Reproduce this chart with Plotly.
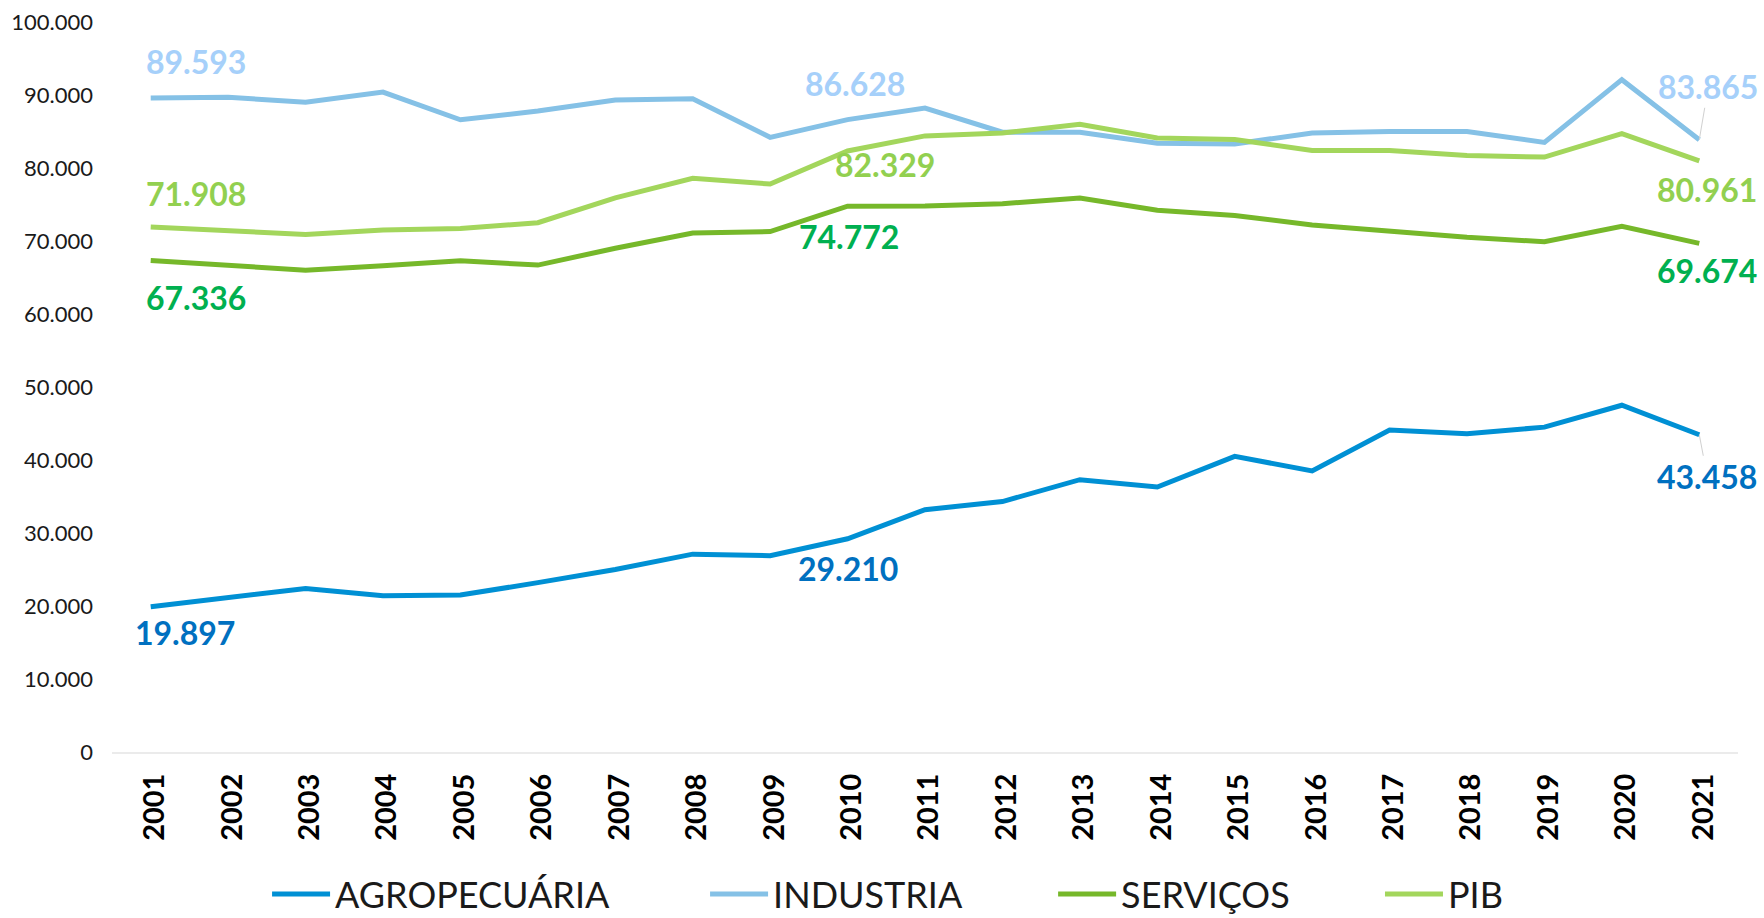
import plotly.graph_objects as go

years = [str(y) for y in range(2001, 2022)]

agro = [19897, 21100, 22400, 21400, 21500, 23200, 25000, 27100, 26900, 29210,
        33200, 34300, 37300, 36300, 40500, 38500, 44100, 43600, 44500, 47500, 43458]
industria = [89593, 89700, 89000, 90400, 86600, 87800, 89300, 89500, 84200, 86628,
             88200, 84900, 84900, 83400, 83300, 84800, 85000, 85000, 83500, 92100, 83865]
servicos = [67336, 66600, 66000, 66600, 67300, 66700, 69000, 71100, 71300, 74772,
            74800, 75100, 75900, 74200, 73500, 72200, 71300, 70500, 69900, 72000, 69674]
pib = [71908, 71400, 70900, 71500, 71700, 72500, 75900, 78600, 77800, 82329,
       84400, 84800, 86000, 84100, 83900, 82400, 82400, 81700, 81500, 84700, 80961]

names = ["AGROPECUÁRIA", "INDUSTRIA", "SERVIÇOS", "PIB"]
series = [agro, industria, servicos, pib]
line_colors = ["#0090D4", "#85C1E6", "#76B82A", "#A3D65C"]
label_colors = ["#0070C0", "#A6D0FA", "#00B050", "#92D050"]
legend_ids = ["legend", "legend2", "legend3", "legend4"]
legend_x = [0.1514, 0.3997, 0.597, 0.7823]

label_idx = [0, 9, 20]
offsets = {
    "AGROPECUÁRIA": [(34, -26), (0, -30), (8, -42)],
    "INDUSTRIA": [(45, 36), (7, 36), (9, 53)],
    "SERVIÇOS": [(45, -37), (1, -30), (8, -27)],
    "PIB": [(45, 34), (37, -13), (8, -29)],
}
arrows = {("AGROPECUÁRIA", 20), ("INDUSTRIA", 20)}

FONT = "Lato"
fig = go.Figure()
for name, vals, lc, lid in zip(names, series, line_colors, legend_ids):
    fig.add_trace(go.Scatter(
        x=years, y=vals, mode="lines", name=name,
        line=dict(color=lc, width=5), legend=lid,
        hoverinfo="x+y+name"))

for name, vals, tc in zip(names, series, label_colors):
    for k, i in enumerate(label_idx):
        dx, dy = offsets[name][k]
        txt = "<b>" + f"{vals[i]:,}".replace(",", ".") + "</b>"
        # category axis: annotation x given as the category index
        if (name, i) in arrows:
            fig.add_annotation(
                x=i, y=vals[i], xref="x", yref="y", text=txt, showarrow=True,
                ax=dx, ay=-dy, arrowhead=0, arrowwidth=1, arrowcolor="#D0D0D0",
                font=dict(family=FONT, size=32, color=tc))
        else:
            fig.add_annotation(
                x=i, y=vals[i], xref="x", yref="y", text=txt, showarrow=False,
                xshift=dx, yshift=dy,
                font=dict(family=FONT, size=32, color=tc))

layout_legends = {}
for lid, lx in zip(legend_ids, legend_x):
    layout_legends[lid] = dict(
        orientation="h", x=lx, xref="container", xanchor="left",
        y=0.026, yref="container", yanchor="middle",
        itemwidth=58,
        font=dict(family=FONT, size=36, color="#1a1a1a"),
        bgcolor="rgba(0,0,0,0)")

fig.update_layout(
    width=1764, height=918,
    margin=dict(l=112, r=26, t=22, b=166, autoexpand=False),
    paper_bgcolor="white", plot_bgcolor="white",
    separators=",.",
    font=dict(family=FONT, color="#1a1a1a"),
    showlegend=True,
    **layout_legends,
)
fig.update_xaxes(
    type="category", range=[-0.5, 20.5], automargin=False,
    showgrid=False, zeroline=False,
    showline=True, linecolor="#EBEBEB", linewidth=2,
    ticks="", tickangle=-90, ticklabelstandoff=8, ticklabelshift=4,
    tickfont=dict(family=FONT, size=29, color="#000000", weight="bold"),
)
fig.update_yaxes(
    range=[0, 100000], dtick=10000, tickformat=",d", automargin=False,
    showgrid=False, zeroline=False, showline=False,
    ticks="", ticklabelstandoff=18,
    tickfont=dict(family=FONT, size=22, color="#1a1a1a"),
)

post = "document.body.style.margin='0';"
fig.write_html("out.html", post_script=post, config={"displayModeBar": False})
